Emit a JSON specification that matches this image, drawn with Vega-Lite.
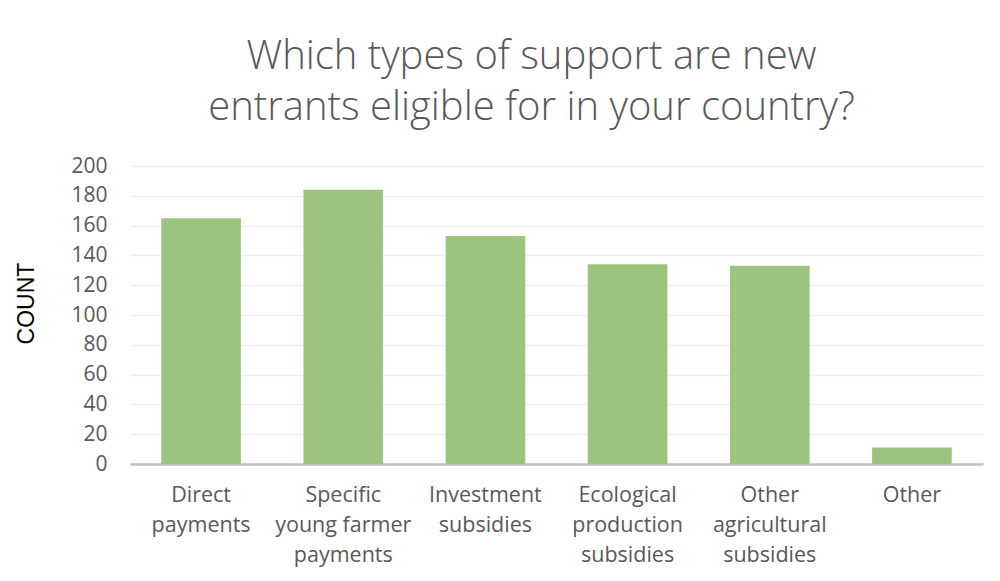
{
  "$schema": "https://vega.github.io/schema/vega-lite/v6.json",
  "autosize": {"type": "none"},
  "width": 853,
  "height": 298,
  "padding": {"left": 130, "top": 166, "right": 17, "bottom": 117},
  "background": "white",
  "title": {
    "text": ["Which types of support are new", "entrants eligible for in your country?"],
    "anchor": "middle",
    "frame": "group",
    "dx": -25,
    "offset": 27,
    "font": "Open Sans",
    "fontSize": 40,
    "fontWeight": 300,
    "color": "#595959",
    "lineHeight": 51
  },
  "data": {
    "values": [
      {"category": "Direct payments", "count": 165},
      {"category": "Specific young farmer payments", "count": 184},
      {"category": "Investment subsidies", "count": 153},
      {"category": "Ecological production subsidies", "count": 134},
      {"category": "Other agricultural subsidies", "count": 133},
      {"category": "Other", "count": 11}
    ]
  },
  "mark": {"type": "bar", "color": "#9CC47F"},
  "encoding": {
    "x": {
      "field": "category",
      "type": "nominal",
      "sort": null,
      "scale": {"paddingInner": 0.44, "paddingOuter": 0.22},
      "axis": {
        "title": null,
        "labelAngle": 0,
        "ticks": false,
        "domainColor": "#BFBFBF",
        "domainWidth": 2.5,
        "labelFont": "Open Sans",
        "labelFontSize": 21.5,
        "labelColor": "#595959",
        "labelLineHeight": 30,
        "labelPadding": 20,
        "labelBaseline": "top",
        "labelExpr": "{'Direct payments': ['Direct','payments'], 'Specific young farmer payments': ['Specific','young farmer','payments'], 'Investment subsidies': ['Investment','subsidies'], 'Ecological production subsidies': ['Ecological','production','subsidies'], 'Other agricultural subsidies': ['Other','agricultural','subsidies'], 'Other': 'Other'}[datum.value]"
      }
    },
    "y": {
      "field": "count",
      "type": "quantitative",
      "scale": {"domain": [0, 200], "nice": false},
      "axis": {
        "values": [0, 20, 40, 60, 80, 100, 120, 140, 160, 180, 200],
        "domain": false,
        "ticks": false,
        "grid": true,
        "gridColor": "#EFEFEF",
        "gridWidth": 1.5,
        "labelFont": "Open Sans",
        "labelFontSize": 21,
        "labelColor": "#595959",
        "labelPadding": 23,
        "title": "COUNT",
        "titleFont": "Liberation Sans",
        "titleFontSize": 23,
        "titleFontWeight": "normal",
        "titleColor": "#000000",
        "titleX": -104,
        "titleY": 137,
        "titleAngle": -90,
        "titleAlign": "center",
        "titleBaseline": "middle"
      }
    }
  },
  "config": {"view": {"stroke": null}}
}
